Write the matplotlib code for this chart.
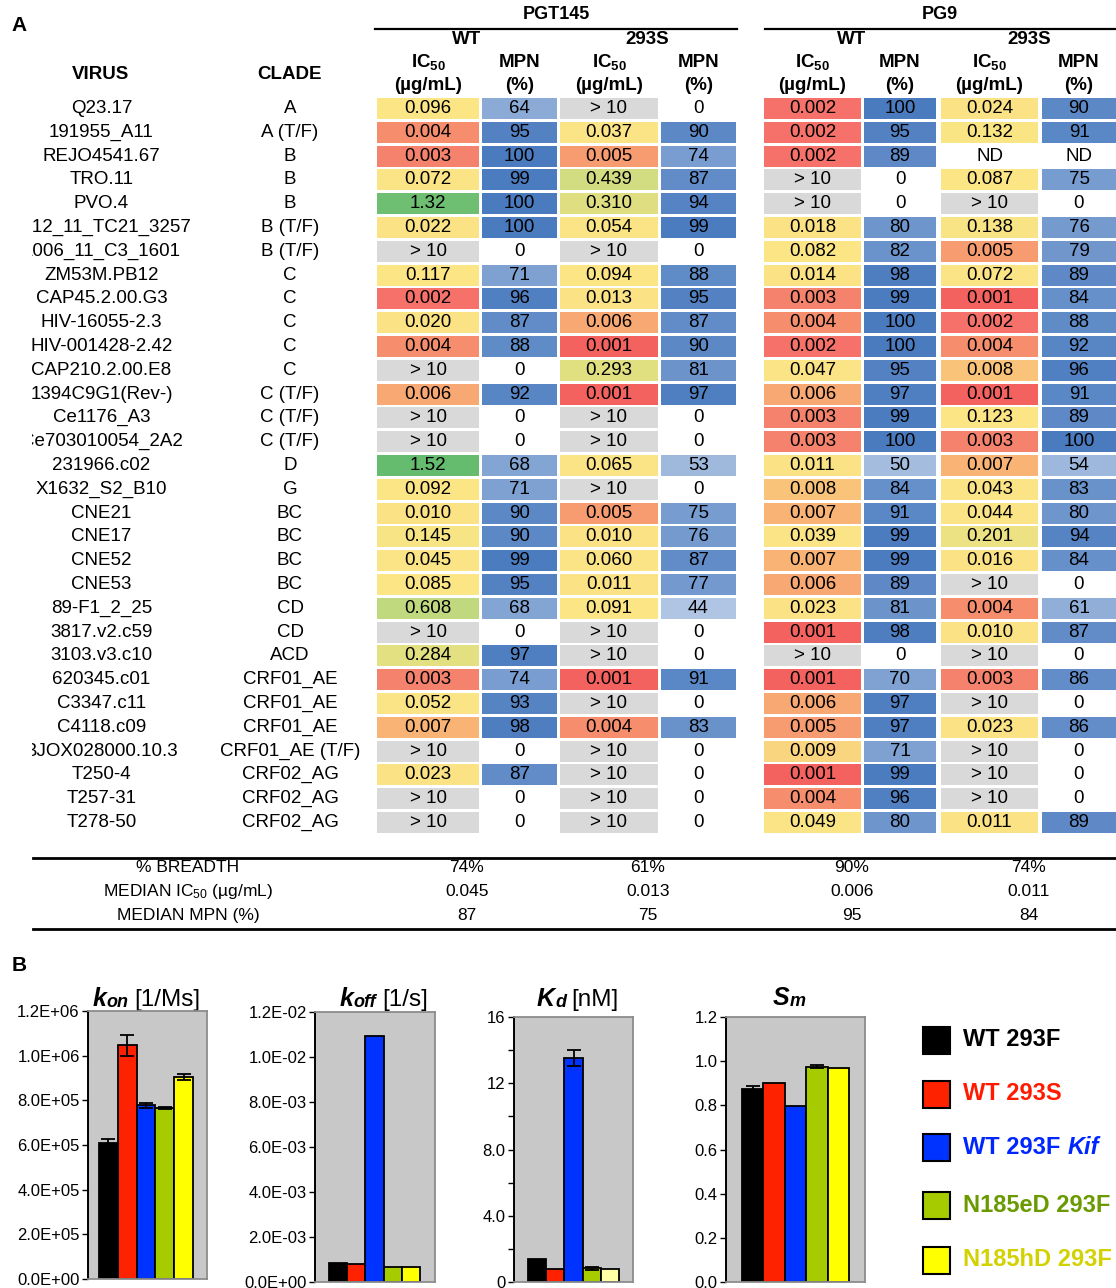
import numpy as np
import matplotlib
matplotlib.use("Agg")
import matplotlib.pyplot as plt
from matplotlib.patches import Rectangle
from matplotlib.colors import LinearSegmentedColormap, Normalize
from matplotlib.transforms import Bbox, TransformedBbox

plt.rcParams['font.family'] = ['Liberation Sans', 'DejaVu Sans']
plt.rcParams['mathtext.fontset'] = 'custom'
plt.rcParams['mathtext.rm'] = 'Liberation Sans'
plt.rcParams['mathtext.it'] = 'Liberation Sans:italic'
plt.rcParams['mathtext.bf'] = 'Liberation Sans:bold'
plt.rcParams['mathtext.default'] = 'regular'

W, H = 1116, 1288

# ---------------- panel A data ----------------
viruses = ["Q23.17", "191955_A11", "REJO4541.67", "TRO.11", "PVO.4",
           "1012_11_TC21_3257", "1006_11_C3_1601", "ZM53M.PB12", "CAP45.2.00.G3",
           "HIV-16055-2.3", "HIV-001428-2.42", "CAP210.2.00.E8", "1394C9G1(Rev-)",
           "Ce1176_A3", "Ce703010054_2A2", "231966.c02", "X1632_S2_B10", "CNE21",
           "CNE17", "CNE52", "CNE53", "89-F1_2_25", "3817.v2.c59", "3103.v3.c10",
           "620345.c01", "C3347.c11", "C4118.c09", "BJOX028000.10.3", "T250-4",
           "T257-31", "T278-50"]
clades = ["A", "A (T/F)", "B", "B", "B", "B (T/F)", "B (T/F)", "C", "C", "C", "C",
          "C", "C (T/F)", "C (T/F)", "C (T/F)", "D", "G", "BC", "BC", "BC", "BC",
          "CD", "CD", "ACD", "CRF01_AE", "CRF01_AE", "CRF01_AE", "CRF01_AE (T/F)",
          "CRF02_AG", "CRF02_AG", "CRF02_AG"]

pgt145_wt_ic50 = ["0.096", "0.004", "0.003", "0.072", "1.32", "0.022", ">10", "0.117",
                  "0.002", "0.020", "0.004", ">10", "0.006", ">10", ">10", "1.52",
                  "0.092", "0.010", "0.145", "0.045", "0.085", "0.608", ">10", "0.284",
                  "0.003", "0.052", "0.007", ">10", "0.023", ">10", ">10"]
pgt145_wt_mpn = ["64", "95", "100", "99", "100", "100", "0", "71", "96", "87", "88",
                 "0", "92", "0", "0", "68", "71", "90", "90", "99", "95", "68", "0",
                 "97", "74", "93", "98", "0", "87", "0", "0"]
pgt145_s_ic50 = [">10", "0.037", "0.005", "0.439", "0.310", "0.054", ">10", "0.094",
                 "0.013", "0.006", "0.001", "0.293", "0.001", ">10", ">10", "0.065",
                 ">10", "0.005", "0.010", "0.060", "0.011", "0.091", ">10", ">10",
                 "0.001", ">10", "0.004", ">10", ">10", ">10", ">10"]
pgt145_s_mpn = ["0", "90", "74", "87", "94", "99", "0", "88", "95", "87", "90", "81",
                "97", "0", "0", "53", "0", "75", "76", "87", "77", "44", "0", "0",
                "91", "0", "83", "0", "0", "0", "0"]
pg9_wt_ic50 = ["0.002", "0.002", "0.002", ">10", ">10", "0.018", "0.082", "0.014",
               "0.003", "0.004", "0.002", "0.047", "0.006", "0.003", "0.003", "0.011",
               "0.008", "0.007", "0.039", "0.007", "0.006", "0.023", "0.001", ">10",
               "0.001", "0.006", "0.005", "0.009", "0.001", "0.004", "0.049"]
pg9_wt_mpn = ["100", "95", "89", "0", "0", "80", "82", "98", "99", "100", "100", "95",
              "97", "99", "100", "50", "84", "91", "99", "99", "89", "81", "98", "0",
              "70", "97", "97", "71", "99", "96", "80"]
pg9_s_ic50 = ["0.024", "0.132", "ND", "0.087", ">10", "0.138", "0.005", "0.072",
              "0.001", "0.002", "0.004", "0.008", "0.001", "0.123", "0.003", "0.007",
              "0.043", "0.044", "0.201", "0.016", ">10", "0.004", "0.010", ">10",
              "0.003", ">10", "0.023", ">10", ">10", ">10", "0.011"]
pg9_s_mpn = ["90", "91", "ND", "75", "0", "76", "79", "89", "84", "88", "92", "96",
             "91", "89", "100", "54", "83", "80", "94", "84", "0", "61", "87", "0",
             "86", "0", "86", "0", "0", "0", "89"]

summary_labels = ["% BREADTH", "MEDIAN IC$_{50}$ (µg/mL)", "MEDIAN MPN (%)"]
breadth = ["74%", "61%", "90%", "74%"]
median_ic50 = ["0.045", "0.013", "0.006", "0.011"]
median_mpn = ["87", "75", "95", "84"]

# ---------------- panel B data ----------------
groups = ["WT 293F", "WT 293S", "WT 293F Kif", "N185eD 293F", "N185hD 293F"]
kon = [6.1e5, 1.047e6, 7.77e5, 7.64e5, 9.04e5]
kon_err = [1.8e4, 4.7e4, 1.3e4, 4e3, 1.5e4]
koff = [8.4e-4, 7.9e-4, 1.094e-2, 6.5e-4, 6.5e-4]
koff_err = [0, 0, 0, 0, 0]
kd = [1.39, 0.8, 13.55, 0.83, 0.78]
kd_err = [0, 0, 0.48, 0.08, 0]
sm = [0.873, 0.903, 0.798, 0.975, 0.968]
sm_err = [0.013, 0, 0, 0.008, 0]

bar_colors = ['#000000', '#ff2200', '#0033ff', '#a6cc00', '#ffff00']
text_colors = ['#000000', '#ff1a00', '#0026ff', '#6a9a00', '#d2d200']

fig = plt.figure(figsize=(W / 100, H / 100), dpi=100)
ax = fig.add_axes([0, 0, 1, 1])
ax.set_xlim(0, W)
ax.set_ylim(H, 0)
ax.axis('off')

# IC50 colour scale on log10 value
ic50_nodes = [(-3.0, '#f4625f'), (-2.7, '#f5716a'), (-2.5, '#f5846c'), (-2.4, '#f68e6e'),
              (-2.3, '#f79e70'), (-2.22, '#f8a872'), (-2.15, '#f9b676'), (-2.1, '#f9c27a'),
              (-2.05, '#fad480'), (-2.0, '#fbe285'), (-0.9, '#fbe585'), (-0.55, '#e3e081'),
              (-0.35, '#d2dc81'), (-0.22, '#c2d97e'), (0.12, '#6fbf72'), (0.2, '#63bb6f')]
ic50_cmap = LinearSegmentedColormap.from_list(
    'ic50', [((v + 3.0) / 3.2, c) for v, c in ic50_nodes])
ic50_norm = Normalize(-3.0, 0.2)
mpn_cmap = LinearSegmentedColormap.from_list('mpn', ['#ffffff', '#4a7bbf'])


def ic50_color(s):
    if s == ">10":
        return '#d9d9d9'
    if s == "ND":
        return 'white'
    return ic50_cmap(ic50_norm(np.log10(float(s))))


def mpn_color(s):
    if s == "ND":
        return 'white'
    return mpn_cmap(float(s) / 100.0)


row_y = 108.5 + np.arange(len(viruses)) * 23.8
cell_h = 21

# columns: (data, kind, x0, x1)
columns = [(pgt145_wt_ic50, 'ic50', 377, 479), (pgt145_wt_mpn, 'mpn', 482, 557),
           (pgt145_s_ic50, 'ic50', 560, 658), (pgt145_s_mpn, 'mpn', 661, 736),
           (pg9_wt_ic50, 'ic50', 764, 861), (pg9_wt_mpn, 'mpn', 864, 936),
           (pg9_s_ic50, 'ic50', 941, 1038), (pg9_s_mpn, 'mpn', 1042, 1116)]

fs = 13.5
clip = TransformedBbox(Bbox([[32, 0], [400, H]]), ax.transData)
for i, y in enumerate(row_y):
    t = ax.text(101.5, y, viruses[i], ha='center', va='center', fontsize=fs)
    t.set_clip_box(clip)
    t.set_clip_on(True)
    ax.text(290, y, clades[i], ha='center', va='center', fontsize=fs)
    for data, kind, x0, x1 in columns:
        s = data[i]
        fc = ic50_color(s) if kind == 'ic50' else mpn_color(s)
        ax.add_patch(Rectangle((x0, y - cell_h / 2), x1 - x0, cell_h,
                               facecolor=fc, edgecolor='none'))
        label = "> 10" if s == ">10" else s
        ax.text((x0 + x1) / 2, y, label, ha='center', va='center', fontsize=fs)

# headers
ax.text(19, 25, "A", ha='center', va='center', fontsize=15, fontweight='bold')
ax.text(556, 14, "PGT145", ha='center', va='center', fontsize=13, fontweight='bold')
ax.text(940, 14, "PG9", ha='center', va='center', fontsize=13, fontweight='bold')
ax.plot([375, 737], [29, 29], color='black', lw=1.6)
ax.plot([765, 1116], [29, 29], color='black', lw=1.6)
for x, s in zip([467, 647, 852, 1029], ["WT", "293S", "WT", "293S"]):
    ax.text(x, 39, s, ha='center', va='center', fontsize=13.5, fontweight='bold')
for data, kind, x0, x1 in columns:
    xc = (x0 + x1) / 2
    if kind == 'ic50':
        ax.text(xc, 62, "IC$_{50}$", ha='center', va='center', fontsize=13.5, fontweight='bold')
        ax.text(xc, 85, "(µg/mL)", ha='center', va='center', fontsize=13.5, fontweight='bold')
    else:
        ax.text(xc, 62, "MPN", ha='center', va='center', fontsize=13.5, fontweight='bold')
        ax.text(xc, 85, "(%)", ha='center', va='center', fontsize=13.5, fontweight='bold')
ax.text(101, 74, "VIRUS", ha='center', va='center', fontsize=13.5, fontweight='bold')
ax.text(290, 74, "CLADE", ha='center', va='center', fontsize=13.5, fontweight='bold')

# summary block
narrow = ['Liberation Sans Narrow', 'Liberation Sans', 'DejaVu Sans']
ax.plot([33, 1116], [858, 858], color='black', lw=2)
ax.plot([33, 1116], [929, 929], color='black', lw=2)
sum_y = [867, 891, 915]
for y, lab, vals in zip(sum_y, summary_labels, [breadth, median_ic50, median_mpn]):
    ax.text(188, y, lab, ha='center', va='center', fontsize=12.5, family=narrow)
    for x, v in zip([467, 648, 852, 1029], vals):
        ax.text(x, y, v, ha='center', va='center', fontsize=12.5, family=narrow)

# ---------------- panel B ----------------
ax.text(19, 965, "B", ha='center', va='center', fontsize=15, fontweight='bold')


def bar_panel(box, xlim, vals, err, colors, ymax, ticks, labels, minor=None):
    x0, x1, ytop, ybot = box
    bx = fig.add_axes([x0 / W, 1 - ybot / H, (x1 - x0) / W, (ybot - ytop) / H])
    bx.set_facecolor('#c8c8c8')
    pos = np.arange(len(vals))
    bx.bar(pos, vals, width=1.0, color=colors, edgecolor='black', linewidth=1.3, zorder=2)
    ep = [p for p, e in zip(pos, err) if e > 0]
    ev = [v for v, e in zip(vals, err) if e > 0]
    ee = [e for e in err if e > 0]
    if ep:
        bx.errorbar(ep, ev, yerr=ee, fmt='none', ecolor='black', elinewidth=1.3,
                    capsize=5, capthick=1.3, zorder=3)
    bx.set_xlim(*xlim)
    bx.set_ylim(0, ymax)
    bx.set_xticks([])
    bx.set_yticks(ticks)
    bx.set_yticklabels(labels)
    if minor is not None:
        bx.set_yticks(minor, minor=True)
        bx.tick_params(axis='y', which='minor', direction='out', length=4, width=1)
    bx.tick_params(axis='y', direction='out', length=4, width=1, labelsize=12, pad=2)
    for name, sp in bx.spines.items():
        sp.set_color('#8c8c8c')
        sp.set_linewidth(1.3)
    bx.spines['left'].set_color('black')
    bx.spines['left'].set_linewidth(1.4)
    return bx


kon_ticks = np.arange(0, 1.3e6, 2e5)
bar_panel((88, 207, 1011, 1279), (-1.085, 5.245), kon, kon_err, bar_colors, 1.2e6,
          kon_ticks, [f"{v:.1E}" for v in kon_ticks])
koff_ticks = np.arange(0, 0.013, 0.002)
bar_panel((315, 435, 1012, 1282), (-1.25, 5.3), koff, koff_err, bar_colors, 0.012,
          koff_ticks, [f"{v:.1E}" for v in koff_ticks])
kd_colors = bar_colors[:4] + ['#ffffa6']
bar_panel((514, 633, 1017, 1282), (-1.27, 5.27), kd, kd_err, kd_colors, 16,
          [0, 4, 8, 12, 16], ["0", "4.0", "8.0", "12", "16"], minor=[2, 6, 10, 14])
sm_ticks = np.arange(0, 1.21, 0.2)
bar_panel((726, 865, 1017, 1282), (-1.25, 5.25), sm, sm_err, bar_colors, 1.2,
          sm_ticks, [f"{v:.1f}" for v in sm_ticks])


def rich_title(x, y, parts):
    prev = None
    for s, size, weight, style in parts:
        if prev is None:
            prev = ax.text(x, y, s, fontsize=size, fontweight=weight, fontstyle=style,
                           ha='left', va='baseline')
        else:
            gap = 4 if s.startswith('[') else 0
            prev = ax.annotate(s, xy=(1, 0), xycoords=prev, xytext=(gap, 0),
                               textcoords='offset points', fontsize=size,
                               fontweight=weight, fontstyle=style, ha='left', va='bottom')


rich_title(93, 1006, [("k", 18, 'bold', 'italic'), ("on", 13, 'bold', 'italic'),
                      ("[1/Ms]", 17.5, 'normal', 'normal')])
rich_title(340, 1006, [("k", 18, 'bold', 'italic'), ("off", 13, 'bold', 'italic'),
                       ("[1/s]", 17.5, 'normal', 'normal')])
rich_title(537, 1006, [("K", 18, 'bold', 'italic'), ("d", 13, 'bold', 'italic'),
                       ("[nM]", 17.5, 'normal', 'normal')])
rich_title(773, 1005, [("S", 18, 'bold', 'italic'), ("m", 13, 'bold', 'italic')])

# legend
leg_y = [1040, 1094, 1147, 1205, 1260]
for y, lab, fc, tc in zip(leg_y, groups, bar_colors, text_colors):
    ax.add_patch(Rectangle((923, y - 13.5), 27, 27, facecolor=fc, edgecolor='black', lw=1.5))
    if lab.endswith("Kif"):
        t = ax.text(963, y, lab[:-4], ha='left', va='center', fontsize=17,
                    fontweight='bold', color=tc)
        ax.annotate("Kif", xy=(1, 0), xycoords=t, xytext=(5, 0), textcoords='offset points',
                    ha='left', va='bottom', fontsize=17, fontweight='bold',
                    fontstyle='italic', color=tc)
    else:
        ax.text(963, y, lab, ha='left', va='center', fontsize=17, fontweight='bold', color=tc)

fig.savefig("out.png", dpi=100)
